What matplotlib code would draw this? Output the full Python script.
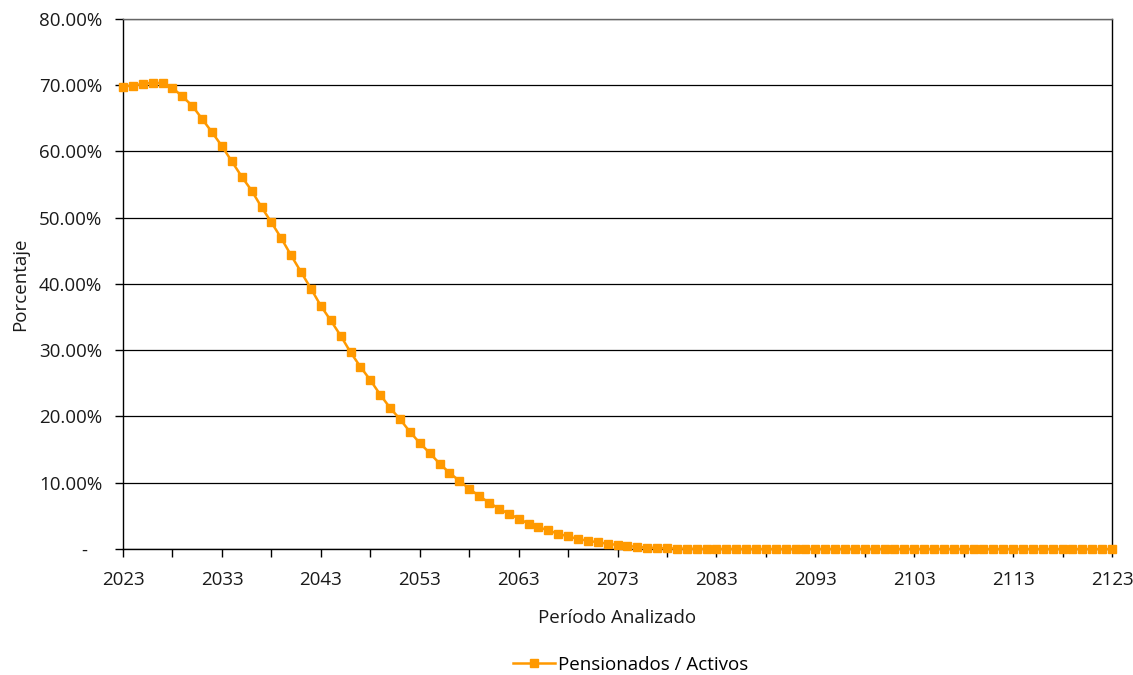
import numpy as np
import matplotlib
matplotlib.use('Agg')
import matplotlib.pyplot as plt
from matplotlib.ticker import FixedLocator, FuncFormatter

plt.rcParams['font.family'] = ['Open Sans', 'DejaVu Sans']

years = list(range(2023, 2124))
ratio = [69.8, 69.95, 70.2, 70.4, 70.3, 69.6, 68.3, 66.9, 64.9, 62.9,
         60.8, 58.5, 56.2, 54.1, 51.6, 49.3, 46.9, 44.3, 41.8, 39.3,
         36.7, 34.5, 32.2, 29.7, 27.5, 25.5, 23.3, 21.3, 19.6, 17.7,
         16.0, 14.5, 12.9, 11.5, 10.3, 9.1, 8.0, 7.0, 6.1, 5.3,
         4.6, 3.8, 3.3, 2.8, 2.3, 1.9, 1.5, 1.25, 1.0, 0.8,
         0.6, 0.45, 0.32, 0.22, 0.15, 0.1, 0.07, 0.05, 0.03, 0.02,
         0.01, 0.01, 0.01, 0.0, 0.0, 0.0, 0.0, 0.0, 0.0, 0.0,
         0.0, 0.0, 0.0, 0.0, 0.0, 0.0, 0.0, 0.0, 0.0, 0.0,
         0.0, 0.0, 0.0, 0.0, 0.0, 0.0, 0.0, 0.0, 0.0, 0.0,
         0.0, 0.0, 0.0, 0.0, 0.0, 0.0, 0.0, 0.0, 0.0, 0.0,
         0.0]
serie = 'Pensionados / Activos'

fig = plt.figure(figsize=(11.33, 6.75), dpi=100)
ax = fig.add_axes([0.1086, 0.1867, 0.8729, 0.7852])

ax.plot(years, ratio, color='#FF9900', lw=1.8, marker='s', ms=6,
        label=serie, clip_on=False, zorder=3)

ax.set_xlim(2023, 2123)
ax.set_ylim(0, 80)
ax.yaxis.set_major_locator(FixedLocator(np.arange(0, 81, 10)))
# formato contable: el cero se muestra como guion, algo separado del eje
ax.yaxis.set_major_formatter(FuncFormatter(lambda v, p: '-   ' if v == 0 else f'{v:.2f}%'))
ax.xaxis.set_major_locator(FixedLocator(range(2023, 2124, 10)))
ax.xaxis.set_minor_locator(FixedLocator(range(2028, 2124, 10)))
ax.grid(axis='y', color='black', lw=0.9)
ax.set_axisbelow(True)

for s in ax.spines.values():
    s.set_color('black')
    s.set_linewidth(1.0)
ax.spines['top'].set_color('#666666')

ax.tick_params(axis='both', which='both', direction='out', length=6, width=1,
               color='black', labelsize=13.5, labelcolor='#1a1a1a')
ax.tick_params(axis='y', pad=9)
ax.tick_params(axis='x', pad=10)

ax.set_ylabel('Porcentaje', fontsize=13.5, labelpad=7, color='#1a1a1a')
ax.set_xlabel('Período Analizado', fontsize=13.5, labelpad=14, color='#1a1a1a')

fig.legend(loc='center', bbox_to_anchor=(0.557, 1 - 665 / 675), frameon=False,
           fontsize=13.5, handlelength=2.2, handletextpad=0.2, markerscale=0.85)

fig.savefig('out.png', dpi=100)
